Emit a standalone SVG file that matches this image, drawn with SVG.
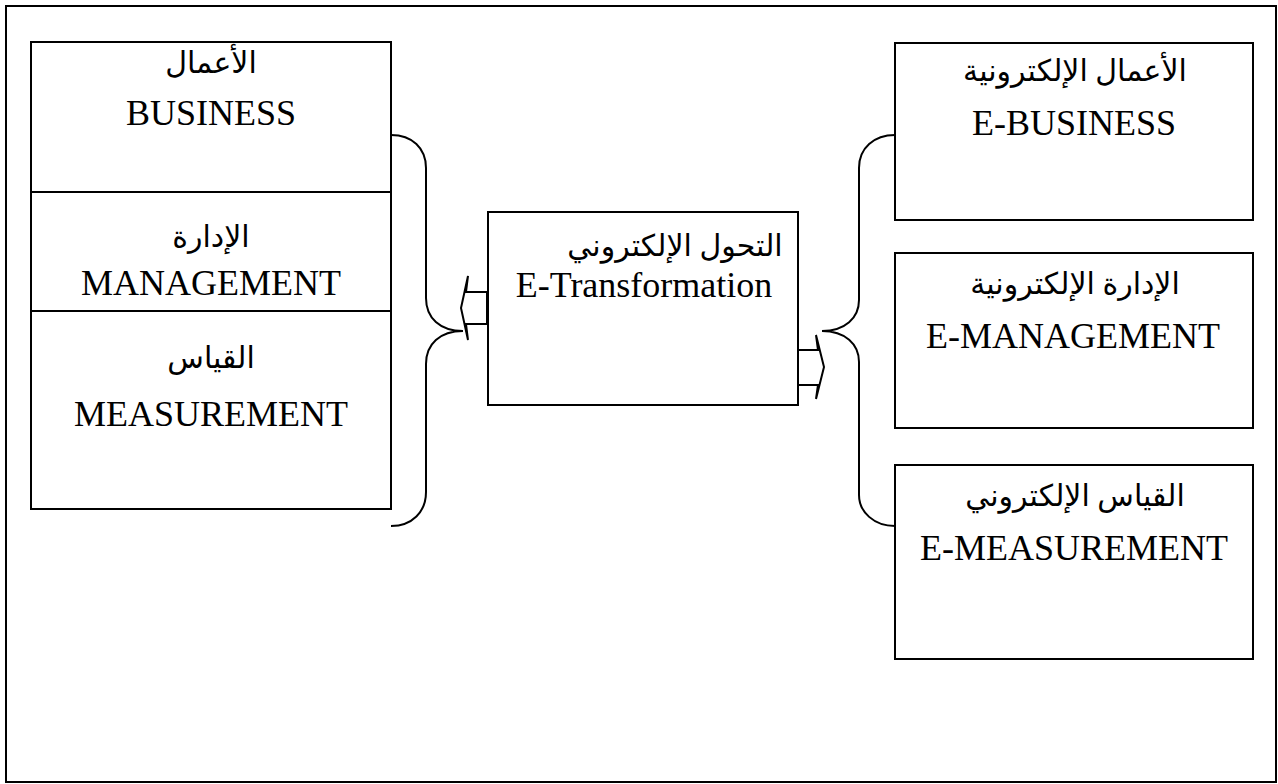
<svg xmlns="http://www.w3.org/2000/svg" width="1278" height="784" viewBox="0 0 1278 784">
<style>
.box{fill:#fff;stroke:#000;stroke-width:2}
.ln{fill:none;stroke:#000;stroke-width:2}
.en{font-family:"Liberation Serif","Times New Roman",serif;font-size:36px;fill:#000;text-anchor:middle}
.ar{font-family:"Liberation Serif","DejaVu Sans",serif;font-size:30px;fill:#000;text-anchor:middle}
</style>
<rect x="0" y="0" width="1278" height="784" fill="#fff"/>
<rect x="6" y="6" width="1270" height="776" class="ln" stroke-width="2.5"/>
<g id="left-box">
<rect x="31" y="42" width="360" height="467" class="box"/>
<line x1="31" y1="192" x2="391" y2="192" class="ln"/>
<line x1="31" y1="311" x2="391" y2="311" class="ln"/>
<text x="211" y="73" class="ar">الأعمال</text>
<text x="211" y="125" class="en">BUSINESS</text>
<text x="211" y="247" class="ar">الإدارة</text>
<text x="211" y="295" class="en">MANAGEMENT</text>
<text x="211" y="368" class="ar">القياس</text>
<text x="211" y="426" class="en">MEASUREMENT</text>
</g>
<g id="center-box">
<rect x="488" y="212" width="310" height="193" class="box"/>
<text x="675" y="256" class="ar">التحول الإلكتروني</text>
<text x="644" y="297" class="en">E-Transformation</text>
</g>
<g id="e-business">
<rect x="895" y="43" width="358" height="177" class="box"/>
<text x="1075" y="81" class="ar">الأعمال الإلكترونية</text>
<text x="1074" y="135" class="en">E-BUSINESS</text>
</g>
<g id="e-management">
<rect x="895" y="253" width="358" height="175" class="box"/>
<text x="1075" y="294" class="ar">الإدارة الإلكترونية</text>
<text x="1073" y="348" class="en">E-MANAGEMENT</text>
</g>
<g id="e-measurement">
<rect x="895" y="465" width="358" height="194" class="box"/>
<text x="1075" y="506" class="ar">القياس الإلكتروني</text>
<text x="1074" y="560" class="en">E-MEASUREMENT</text>
</g>
<g id="connectors">
<path class="ln" d="M391,135 C412,135 426,148 426,168 L426,298 C426,318 440,331 463,331 C440,331 426,344 426,364 L426,492 C426,512 412,526 391,526"/>
<path class="ln" d="M895,135 C874,135 859,148 859,168 L859,300 C859,318 845,331 822,331 C845,331 859,344 859,362 L859,495 C859,512 874,526 895,526"/>
<polygon class="box" points="487,292 466,292 468,276 461,308 468,340 466,324 487,324"/>
<polygon class="box" points="798,350 818,350 816,335 824,367 816,399 818,385 798,385"/>
</g>
</svg>
